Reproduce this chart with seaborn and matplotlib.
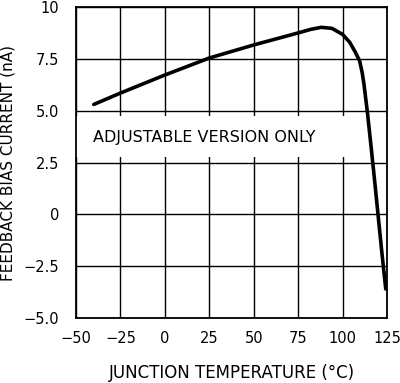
import pandas as pd
import matplotlib
matplotlib.use('Agg')
import matplotlib.pyplot as plt
import seaborn as sns
from matplotlib.patches import Rectangle

# feedback bias current vs junction temperature
temp = [-40, -25, 0, 25, 50, 75, 82, 88, 94, 100, 104, 107, 109.6, 111, 112, 114, 116, 118, 120, 122, 124.3]
bias = [5.3, 5.85, 6.72, 7.54, 8.17, 8.75, 8.92, 9.02, 8.97, 8.68, 8.3, 7.85, 7.4, 6.85, 6.3, 4.9, 3.3, 1.65, -0.05, -1.75, -3.6]

xticks = [-50, -25, 0, 25, 50, 75, 100, 125]
xlabels = ['\u221250', '\u221225', '0', '25', '50', '75', '100', '125']
yticks = [-5, -2.5, 0, 2.5, 5, 7.5, 10]
ylabels = ['\u22125.0', '\u22122.5', '0', '2.5', '5.0', '7.5', '10']

df = pd.DataFrame({'temp': temp, 'bias': bias})

sns.set_style('white')
plt.rcParams['font.family'] = ['DejaVu Sans']
plt.rcParams['text.color'] = 'black'
plt.rcParams['axes.labelcolor'] = 'black'

fig = plt.figure(figsize=(4.0, 3.83), dpi=100)
ax = fig.add_axes([0.19, 0.1697, 0.7775, 0.812])

ax.set_xlim(-50, 125)
ax.set_ylim(-5, 10)
ax.set_xticks(xticks)
ax.set_xticklabels(xlabels)
ax.set_yticks(yticks)
ax.set_yticklabels(ylabels)
ax.tick_params(length=0, labelsize=10.5, colors='black')
ax.tick_params(axis='x', pad=9)
ax.tick_params(axis='y', pad=12)
ax.grid(True, color='black', linewidth=1.0)
ax.set_axisbelow(True)
for s in ax.spines.values():
    s.set_color('black')
    s.set_linewidth(1.3)

# white label box covering the grid
ax.add_patch(Rectangle((-50, 2.75), 158, 2.0, facecolor='white', edgecolor='none', zorder=1.5))
ax.text(22, 3.72, 'ADJUSTABLE VERSION ONLY', ha='center', va='center', fontsize=11.5, zorder=2)

sns.lineplot(data=df, x='temp', y='bias', sort=False, color='black', linewidth=2.6, ax=ax, zorder=3)
ax.lines[-1].set_solid_capstyle('round')
ax.lines[-1].set_solid_joinstyle('round')

ax.set_xlabel('JUNCTION TEMPERATURE (\u00b0C)', fontsize=12, labelpad=13)
ax.set_ylabel('FEEDBACK BIAS CURRENT (nA)', fontsize=11, labelpad=6)

fig.savefig('out.png', dpi=100)
